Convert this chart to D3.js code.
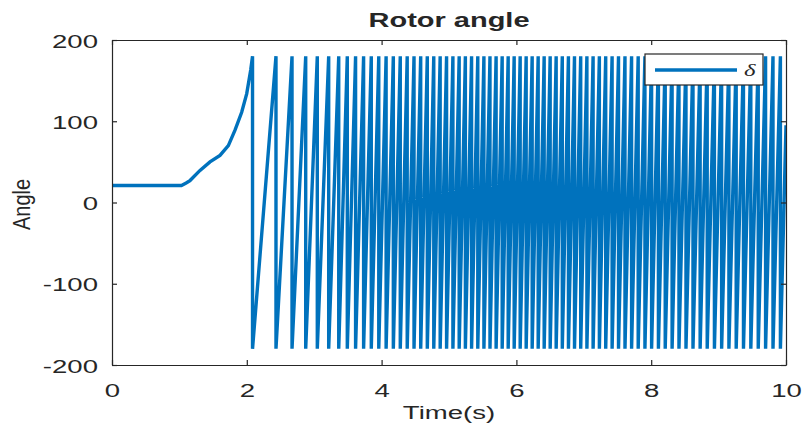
<!DOCTYPE html>
<html>
<head>
<meta charset="utf-8">
<script src="https://cdn.jsdelivr.net/npm/d3@7/dist/d3.min.js"></script>
<style>
  html, body { margin: 0; padding: 0; background: #fff; }
  svg { display: block; }
  text { font-family: "Liberation Sans", Arial, Helvetica, sans-serif; fill: #262626; }
</style>
</head>
<body>
<svg id="chart" width="804" height="429"></svg>
<script>
// Rotor angle before loss of synchronism: [time (s), angle (deg)]
const preSlipTime  = [0, 1.03, 1.10, 1.157, 1.306, 1.454, 1.602, 1.726, 1.825, 1.924, 1.999, 2.058, 2.085];
const preSlipAngle = [21, 21, 24, 27, 39.5, 50, 58, 70, 89, 111, 134, 163, 180];

// Instants at which the angle wraps from +180 to -180 (pole slips)
const wrapTimes = [
  2.085, 2.433, 2.671, 2.874, 3.046, 3.215, 3.364, 3.491, 3.614, 3.733,
  3.847, 3.958, 4.067, 4.174, 4.277, 4.380, 4.481, 4.580, 4.678, 4.774,
  4.869, 4.964, 5.058, 5.151, 5.243, 5.335, 5.427, 5.518, 5.608, 5.699,
  5.789, 5.878, 5.967, 6.056, 6.145, 6.234, 6.323, 6.412, 6.501, 6.590,
  6.681, 6.772, 6.862, 6.954, 7.046, 7.138, 7.231, 7.325, 7.420, 7.515,
  7.611, 7.709, 7.807, 7.907, 8.006, 8.107, 8.208, 8.310, 8.412, 8.516,
  8.620, 8.726, 8.831, 8.938, 9.045, 9.153, 9.261, 9.369, 9.478, 9.588,
  9.697, 9.807, 9.917
];
const wrapHigh = 180;
const wrapLow = -180;
const endTime = 10;
const endAngle = 95;

const xTicks = [0, 2, 4, 6, 8, 10];
const yTicks = [-200, -100, 0, 100, 200];

// Assemble the trace: smooth rise, then ramps separated by vertical wraps
const series = preSlipTime.map((t, i) => [t, preSlipAngle[i]]);
wrapTimes.forEach((t, i) => {
  if (i > 0) series.push([t, wrapHigh]);
  series.push([t, wrapLow]);
});
series.push([endTime, endAngle]);

const svg = d3.select("#chart");
const m = { left: 112, right: 18, top: 40, bottom: 64 };
const W = 804, H = 429;
const x = d3.scaleLinear().domain([0, 10]).range([m.left, W - m.right]);
const y = d3.scaleLinear().domain([-200, 200]).range([H - m.bottom, m.top]);

const axisColor = "#262626";
const stretch = 1.45;   // wide lettering
const lineColor = "#0072BD";
const lineWidth = 3.4;

svg.append("clipPath").attr("id", "plot-clip")
  .append("rect")
  .attr("x", x(0)).attr("y", y(200))
  .attr("width", x(10) - x(0)).attr("height", y(-200) - y(200));

// Trace
svg.append("path")
  .datum(series)
  .attr("clip-path", "url(#plot-clip)")
  .attr("fill", "none")
  .attr("stroke", lineColor)
  .attr("stroke-width", lineWidth)
  .attr("stroke-linejoin", "miter")
  .attr("stroke-miterlimit", 2)
  .attr("d", d3.line().x(d => x(d[0])).y(d => y(d[1])));

// Axes with inward ticks on all four sides (boxed frame)
const tickLen = 5;
const fontSize = 19;
const plain = d => String(d);
const bottomAxis = d3.axisBottom(x).tickValues(xTicks).tickFormat(plain).tickSizeInner(-tickLen).tickSizeOuter(0).tickPadding(0);
const topAxis = d3.axisTop(x).tickValues(xTicks).tickSizeInner(-tickLen).tickSizeOuter(0).tickFormat("");
const leftAxis = d3.axisLeft(y).tickValues(yTicks).tickFormat(plain).tickSizeInner(-tickLen).tickSizeOuter(0).tickPadding(0);
const rightAxis = d3.axisRight(y).tickValues(yTicks).tickSizeInner(-tickLen).tickSizeOuter(0).tickFormat("");

function styleAxis(g) {
  g.selectAll("path").attr("stroke", axisColor).attr("stroke-width", 1.2);
  g.selectAll("line").attr("stroke", axisColor).attr("stroke-width", 1.2);
  g.selectAll("text").attr("fill", axisColor)
    .style("font-size", fontSize + "px")
    .style("font-family", '"Liberation Sans", Arial, sans-serif');
}
const gb = svg.append("g").attr("transform", `translate(0,${y(-200)})`).call(bottomAxis).call(styleAxis);
gb.selectAll(".tick text").attr("x", 0).attr("y", 0).attr("dy", null)
  .attr("transform", `translate(0,32) scale(${stretch},1)`);
svg.append("g").attr("transform", `translate(0,${y(200)})`).call(topAxis).call(styleAxis);
const gl = svg.append("g").attr("transform", `translate(${x(0)},0)`).call(leftAxis).call(styleAxis);
gl.selectAll(".tick text").attr("x", 0).attr("dy", null)
  .attr("transform", `translate(-14,7) scale(${stretch},1)`);
svg.append("g").attr("transform", `translate(${x(10)},0)`).call(rightAxis).call(styleAxis);

// Title and axis labels
svg.append("text")
  .attr("transform", `translate(${(x(0) + x(10)) / 2},27) scale(${stretch},1)`)
  .attr("text-anchor", "middle")
  .style("font-size", "20px").style("font-weight", "bold")
  .attr("fill", "#000")
  .text("Rotor angle");

svg.append("text")
  .attr("transform", `translate(${(x(0) + x(10)) / 2},419) scale(${stretch},1)`)
  .attr("text-anchor", "middle")
  .style("font-size", "19px")
  .text("Time(s)");

svg.append("text")
  .attr("transform", `translate(30,${y(0) + 2}) rotate(-90) scale(1,1.15)`)
  .attr("text-anchor", "middle")
  .style("font-size", "20px")
  .text("Angle");

// Legend
const lg = svg.append("g").attr("transform", "translate(645,54)");
lg.append("rect").attr("width", 118).attr("height", 31)
  .attr("fill", "#fff").attr("stroke", "#262626").attr("stroke-width", 1.2);
lg.append("line").attr("x1", 10).attr("x2", 92).attr("y1", 16).attr("y2", 16)
  .attr("stroke", lineColor).attr("stroke-width", lineWidth);
lg.append("text")
  .attr("transform", `translate(99,22) scale(${stretch},1)`)
  .style("font-family", '"Liberation Serif", "DejaVu Serif", serif')
  .style("font-style", "italic").style("font-size", "17px")
  .attr("fill", "#000")
  .text("δ");
</script>
</body>
</html>
